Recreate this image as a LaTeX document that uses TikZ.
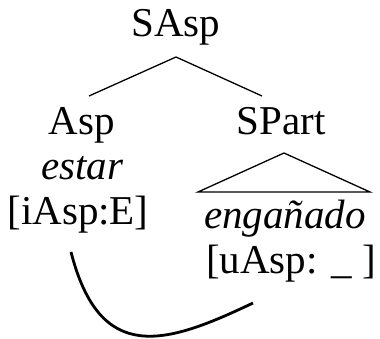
\documentclass[tikz,border=0pt]{standalone}
\usepackage{fontspec}
\setmainfont{Liberation Serif}
\begin{document}
\begin{tikzpicture}[x=1pt,y=-1pt,
  lbl/.style={anchor=base,inner sep=0pt,font=\fontsize{41}{45}\selectfont},
  tree/.style={line width=1.3pt},
  agree/.style={line width=2.8pt}]
\useasboundingbox (0,0) rectangle (380,339);
\node[lbl] (SAsp) at (176,37) {SAsp};
\node[lbl] (Asp) at (82,135) {Asp};
\node[lbl] (estar) at (82,180) {\itshape estar};
\node[lbl] (iAsp) at (78,225) {[iAsp:E]};
\node[lbl] (SPart) at (281,135) {SPart};
\node[lbl] (eng) at (285,228) {\itshape engañado};
\node[lbl] (uAsp) at (291,273) {[uAsp: \_ ]};
\coordinate (top) at (176,57);
\coordinate (lft) at (89,96);
\coordinate (rgt) at (262,96);
\coordinate (tapex) at (284,153);
\coordinate (tl) at (198,192);
\coordinate (tr) at (370,192);
\coordinate (cs) at (71,252);
\coordinate (ce) at (253,303);
\draw[tree] (lft) -- (top) -- (rgt);
\draw[tree] (tl) -- (tapex) -- (tr) -- cycle;
\draw[agree] (cs) .. controls (100,365) and (165,345) .. (ce);
\end{tikzpicture}
\end{document}
